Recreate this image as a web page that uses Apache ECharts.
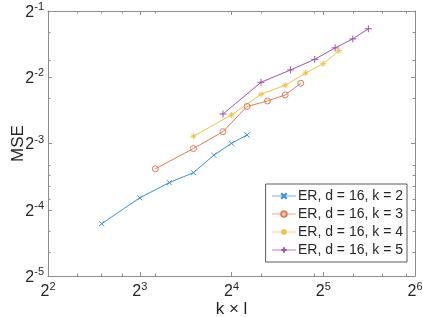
<!DOCTYPE html>
<html>
<head>
<meta charset="utf-8">
<script src="https://cdn.jsdelivr.net/npm/echarts@6/dist/echarts.min.js"></script>
<style>html,body{margin:0;padding:0;background:#fff}#c{width:423px;height:317px}</style>
</head>
<body>
<div id="c"></div>
<script>
// ---- data ----
const seriesNames = ['ER, d = 16, k = 2', 'ER, d = 16, k = 3', 'ER, d = 16, k = 4', 'ER, d = 16, k = 5'];
const k2X = [6, 8, 10, 12, 14, 16, 18];
const k2Y = [0.0540, 0.0708, 0.0830, 0.0921, 0.1106, 0.1252, 0.1367];
const k3X = [9, 12, 15, 18, 21, 24, 27];
const k3Y = [0.0959, 0.1186, 0.1414, 0.1842, 0.1950, 0.2076, 0.2348];
const k4X = [12, 16, 20, 24, 28, 32, 36];
const k4Y = [0.1349, 0.1684, 0.2092, 0.2299, 0.2613, 0.2883, 0.3297];
const k5X = [15, 20, 25, 30, 35, 40, 45];
const k5Y = [0.1701, 0.2372, 0.2699, 0.3015, 0.3400, 0.3733, 0.4153];
const xMin = 4, xMax = 64, yMin = 1 / 32, yMax = 1 / 2;
const xMinorTicks = [5, 6, 7, 9, 20, 30, 40, 50, 60];
const yMinorTicks = [0.4, 0.3, 0.2, 0.1, 0.09, 0.08, 0.07, 0.05, 0.04];
const xTitle = 'k \u00d7 l';
const yTitle = 'MSE';

const colors = ['#3a8fd8', '#e57a55', '#f0c24a', '#9d55ad'];
const symbols = [
  'path://M0,0L10,10M10,0L0,10',
  'circle',
  'path://M5,0L5,10M0,5L10,5M1.5,1.5L8.5,8.5M8.5,1.5L1.5,8.5',
  'path://M5,0L5,10M0,5L10,5'
];
const symbolSizes = [5, 6, 6, 7];

const font = '"Liberation Sans", Arial, Helvetica, sans-serif';
const axisCol = '#8c8c8c';
const textCol = '#262626';

function zip(xs, ys) { return xs.map((x, i) => [x, ys[i]]); }
const allData = [zip(k2X, k2Y), zip(k3X, k3Y), zip(k4X, k4Y), zip(k5X, k5Y)];

function powLabel(v) {
  const e = Math.round(Math.log2(v));
  return '{b|2}{s|' + e + '}';
}
const rich = {
  b: { fontSize: 16, fontFamily: font, color: textCol, verticalAlign: 'bottom', lineHeight: 19 },
  s: { fontSize: 11, fontFamily: font, color: textCol, verticalAlign: 'top', lineHeight: 11 }
};

function xAx(pos, main, showLabel) {
  const a = {
    type: 'log', logBase: 2, min: xMin, max: xMax, splitNumber: 4, position: pos,
    axisLine: { show: main, lineStyle: { color: axisCol, width: 1 } },
    splitLine: { show: false },
    axisLabel: { show: showLabel, margin: 5, formatter: powLabel, rich: rich },
    axisTick: main ? { show: true, inside: true, length: 4, lineStyle: { color: axisCol } }
                   : { show: true, inside: true, length: 2.5, customValues: xMinorTicks, lineStyle: { color: axisCol } }
  };
  if (main && showLabel) {
    a.name = xTitle; a.nameLocation = 'middle'; a.nameGap = 25; a.nameMoveOverlap = false;
    a.nameTextStyle = { fontSize: 17, fontFamily: font, color: textCol };
  }
  return a;
}
function yAx(pos, main, showLabel) {
  const a = {
    type: 'log', logBase: 2, min: yMin, max: yMax, splitNumber: 4, position: pos,
    axisLine: { show: main, lineStyle: { color: axisCol, width: 1 } },
    splitLine: { show: false },
    axisLabel: { show: showLabel, margin: 4, formatter: powLabel, rich: rich },
    axisTick: main ? { show: true, inside: true, length: 4, lineStyle: { color: axisCol } }
                   : { show: true, inside: true, length: 2.5, customValues: yMinorTicks, lineStyle: { color: axisCol } }
  };
  if (main && showLabel) {
    a.name = yTitle; a.nameLocation = 'middle'; a.nameGap = 21; a.nameMoveOverlap = false;
    a.nameTextStyle = { fontSize: 17, fontFamily: font, color: textCol };
  }
  return a;
}

const chart = echarts.init(document.getElementById('c'), null, { renderer: 'canvas' });
chart.setOption({
  backgroundColor: '#fff',
  animation: false,
  grid: { left: 48, right: 8, top: 11, bottom: 41, containLabel: false, outerBoundsMode: 'none' },
  xAxis: [xAx('bottom', true, true), xAx('top', true, false), xAx('bottom', false, false), xAx('top', false, false)],
  yAxis: [yAx('left', true, true), yAx('right', true, false), yAx('left', false, false), yAx('right', false, false)],
  legend: {
    orient: 'vertical', right: 16, bottom: 55,
    backgroundColor: '#fff', borderColor: '#333', borderWidth: 0.8,
    padding: [5, 4, 5, 6], itemGap: 4, itemWidth: 24, itemHeight: 7,
    lineStyle: { width: 0.7 },
    textStyle: { fontSize: 14, lineHeight: 14, fontFamily: font, color: textCol, padding: [0, 0, 0, -3] },
    data: seriesNames
  },
  series: allData.map((d, i) => ({
    name: seriesNames[i], type: 'line', data: d,
    xAxisIndex: 0, yAxisIndex: 0,
    symbol: symbols[i], symbolSize: symbolSizes[i], showAllSymbol: true,
    lineStyle: { color: colors[i], width: 1 },
    itemStyle: { color: 'rgba(0,0,0,0)', borderColor: colors[i], borderWidth: 1 },
    emphasis: { disabled: true }
  }))
});
</script>
</body>
</html>
